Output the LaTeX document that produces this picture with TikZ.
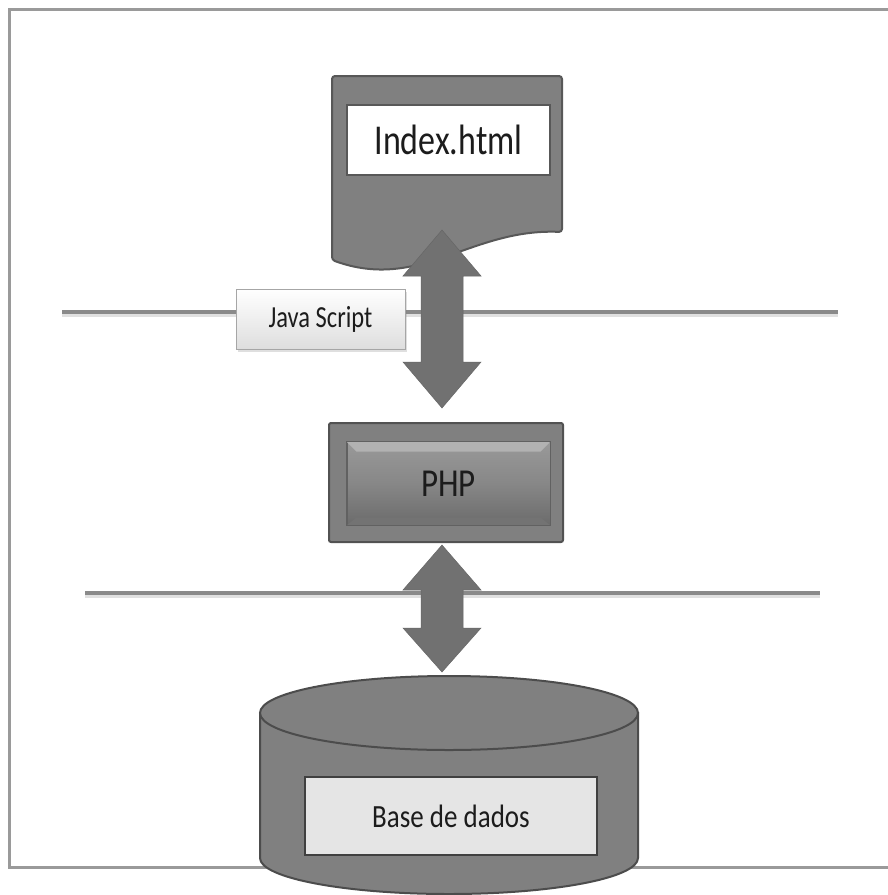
\documentclass[tikz,border=0pt]{standalone}
\usepackage{graphicx}
\usepackage{fontspec}
\setmainfont{Carlito}
\usetikzlibrary{shadows}
\definecolor{framecol}{HTML}{9A9A9A}
\definecolor{linecol}{HTML}{8A8A8A}
\definecolor{docgray}{HTML}{808080}
\definecolor{docborder}{HTML}{585858}
\definecolor{arrowgray}{HTML}{717171}
\definecolor{txt}{HTML}{1C1C1C}
\tikzset{
  layerline/.style={draw=linecol, line width=4, line cap=butt},
  layershade/.style={draw=black!12, line width=4},
  dblarrow/.style={fill=arrowgray, draw=arrowgray!90!black, line width=0.5},
  whitebox/.style={draw=docborder, line width=1.2, fill=white, minimum width=203, minimum height=70, inner sep=0},
  jsbox/.style={draw=black!35, line width=1, top color=white, bottom color=black!13, minimum width=169, minimum height=60, inner sep=0,
    drop shadow={opacity=0.25, shadow xshift=2pt, shadow yshift=-3pt}},
  phpouter/.style={draw=black!68, line width=2, fill=black!50, minimum width=234, minimum height=119, inner sep=0, rounded corners=2},
  phpinner/.style={draw=black!62, line width=1, top color=black!40, bottom color=black!58, middle color=black!47, minimum width=203, minimum height=83, inner sep=0},
  bevel/.style={fill=black!30},
  cyl/.style={draw=black!70, line width=2, fill=docgray},
  dbbox/.style={draw=black!75, line width=1.2, fill=black!10, minimum width=292, minimum height=78, inner sep=0},
}
\begin{document}
\begin{tikzpicture}[x=1pt,y=-1pt]
\useasboundingbox[fill=white] (0,0) rectangle (888,895);
% frame
\draw[framecol, line width=3] (895,9) -- (9,9) -- (9,867) -- (895,867);
% layer lines
\draw[layershade] (62,315) -- (838,315);
\draw[layerline] (62,312) -- (838,312);
\draw[layershade] (85,596) -- (820,596);
\draw[layerline] (85,593) -- (820,593);
% document
\draw[fill=docgray, draw=docborder, line width=2, rounded corners=3]
  (332,76) -- (562,76) -- (562,232)
  .. controls (470,228) and (420,292) .. (332,260) -- cycle;
\node[whitebox] (idx) at (448.5,140) {\scalebox{1}[1.25]{\fontsize{34}{34}\selectfont\color{txt}Index.html}};
% arrow 1
\fill[dblarrow] (442,230) -- (481,276) -- (463,276) -- (463,362) -- (481,362) -- (442,408)
  -- (403,362) -- (421,362) -- (421,276) -- (403,276) -- cycle;
% java script
\node[jsbox] (js) at (320.5,319) {\scalebox{1}[1.25]{\fontsize{24.5}{24.5}\selectfont\color{txt}Java Script}};
% PHP
\node[phpouter] (php) at (446,482.5) {};
\node[phpinner] (phpin) at (448.5,483.5) {};
\fill[bevel] (phpin.north west) -- (phpin.north east) -- ([xshift=-10pt,yshift=-10pt]phpin.north east) -- ([xshift=10pt,yshift=-10pt]phpin.north west) -- cycle;
\fill[black!55] (phpin.south west) -- (phpin.south east) -- ([xshift=-10pt,yshift=8pt]phpin.south east) -- ([xshift=10pt,yshift=8pt]phpin.south west) -- cycle;
\draw[black!62, line width=1] (phpin.south west) rectangle (phpin.north east);
\node[text=txt] (phptext) at (phpin) {\scalebox{1}[1.2]{\fontsize{33}{33}\selectfont PHP}};
% arrow 2
\fill[dblarrow] (442,545) -- (481,590) -- (463,590) -- (463,628) -- (481,628) -- (442,672)
  -- (403,628) -- (421,628) -- (421,590) -- (403,590) -- cycle;
% cylinder
\draw[cyl] (260,713) -- (260,858) arc[start angle=180, end angle=0, x radius=189, y radius=36] -- (638,713) -- cycle;
\draw[cyl] (449,713) ellipse [x radius=189, y radius=37];
\node[dbbox] (db) at (451,816) {\scalebox{1}[1.2]{\fontsize{27}{27}\selectfont\color{txt}Base de dados}};
\end{tikzpicture}
\end{document}
